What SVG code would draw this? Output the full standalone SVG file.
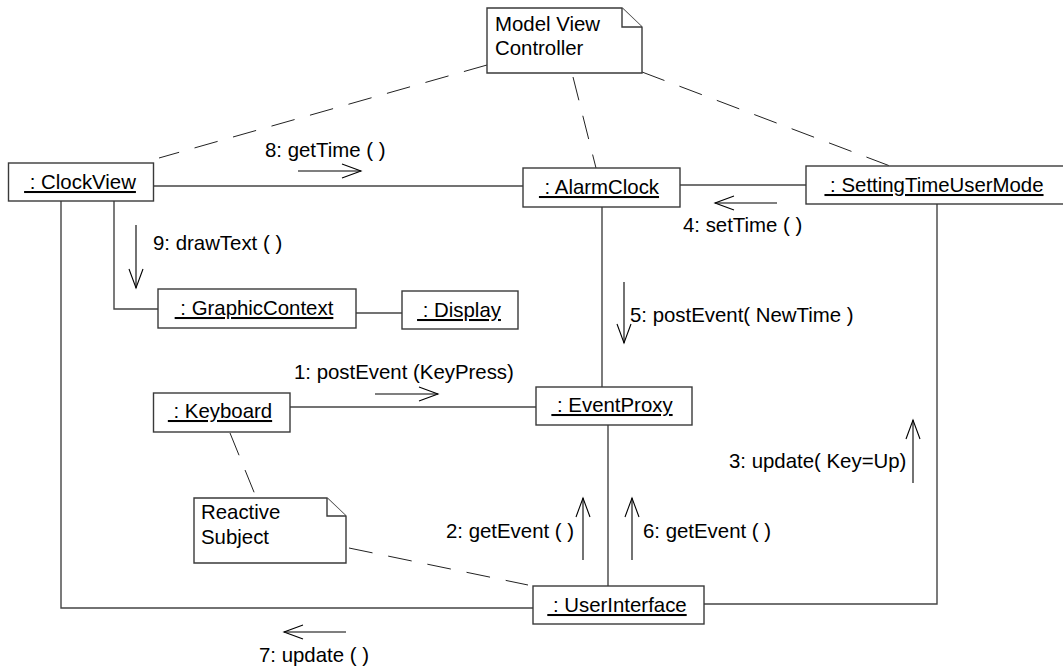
<svg xmlns="http://www.w3.org/2000/svg" width="1063" height="671" viewBox="0 0 1063 671">
<style>
text{font-family:"Liberation Sans",Arial,sans-serif;font-size:20.4px;fill:#000}
.obj{fill:#fff;stroke:#3a3a3a;stroke-width:1.4}
.name{text-anchor:middle;text-decoration:underline;white-space:pre}
.note{fill:#fff;stroke:#3a3a3a;stroke-width:1.4}
.link{fill:none;stroke:#444;stroke-width:1.4}
.dash{fill:none;stroke:#222;stroke-width:1;stroke-dasharray:24 16}
.msg{fill:none;stroke:#000;stroke-width:1.1;marker-end:url(#open)}
</style>
<defs>
<marker id="open" markerUnits="userSpaceOnUse" viewBox="-21 -9 23 18" refX="0" refY="0" markerWidth="23" markerHeight="18" orient="auto" overflow="visible">
<path d="M-19,-7 L0,0 L-19,7" fill="none" stroke="#000" stroke-width="1.1"/>
</marker>
</defs>
<rect width="1063" height="671" fill="#fff"/>
<g id="connectors">
<path class="link" d="M153.5,186 H523"/>
<path class="link" d="M680,185 H806"/>
<path class="link" d="M114,201 V309 H158"/>
<path class="link" d="M356,313 H402"/>
<path class="link" d="M61,201 V608 H533"/>
<path class="link" d="M602,207 V387"/>
<path class="link" d="M290,407 H536"/>
<path class="link" d="M608,425 V586"/>
<path class="link" d="M937,204 V604 H704"/>
<path class="dash" d="M487,65 L159,158"/>
<path class="dash" d="M573,77 L596,168"/>
<path class="dash" d="M642,72 L890,166"/>
<path class="dash" d="M230,433 L256,497"/>
<path class="dash" d="M349,548 L528,585"/>
<path class="msg" d="M298,171 H361"/>
<path class="msg" d="M136,225 V288"/>
<path class="msg" d="M777,203 H715"/>
<path class="msg" d="M624,282 V343"/>
<path class="msg" d="M375,394 H438"/>
<path class="msg" d="M583,560 V498"/>
<path class="msg" d="M632,560 V498"/>
<path class="msg" d="M913,483 V420"/>
<path class="msg" d="M346,632 H284"/>
<text x="265" y="157">8: getTime ( )</text>
<text x="153" y="250">9: drawText ( )</text>
<text x="683" y="232">4: setTime ( )</text>
<text x="630" y="322">5: postEvent( NewTime )</text>
<text x="294" y="379">1: postEvent (KeyPress)</text>
<text x="446" y="538">2: getEvent ( )</text>
<text x="643" y="538">6: getEvent ( )</text>
<text x="729" y="468">3: update( Key=Up)</text>
<text x="259" y="662">7: update ( )</text>
</g>
<g id="note-mvc">
<path class="note" d="M487,8 H622 L642,27 V73 H487 Z"/>
<path class="note" d="M622,8 V27 H642" fill="none"/>
<text x="495" y="31">Model View</text>
<text x="495" y="55">Controller</text>
</g>
<g id="note-reactive">
<path class="note" d="M194,498 H327 L346,516 V563 H194 Z"/>
<path class="note" d="M327,498 V516 H346" fill="none"/>
<text x="201" y="519">Reactive</text>
<text x="201" y="544">Subject</text>
</g>
<g id="clockview">
<rect class="obj" x="8.5" y="163" width="145" height="38"/>
<text class="name" x="80" y="189" xml:space="preserve"> : ClockView</text>
</g>
<g id="alarmclock">
<rect class="obj" x="523" y="168" width="157" height="39"/>
<text class="name" x="599" y="194" xml:space="preserve"> : AlarmClock</text>
</g>
<g id="settingtimeusermode">
<rect class="obj" x="806" y="166" width="280" height="38"/>
<text class="name" x="934" y="192" xml:space="preserve"> : SettingTimeUserMode</text>
</g>
<g id="graphiccontext">
<rect class="obj" x="158" y="289" width="198" height="39"/>
<text class="name" x="254" y="315" xml:space="preserve"> : GraphicContext</text>
</g>
<g id="display">
<rect class="obj" x="402" y="291" width="116" height="38"/>
<text class="name" x="459" y="317" xml:space="preserve"> : Display</text>
</g>
<g id="keyboard">
<rect class="obj" x="153.5" y="393" width="136.5" height="39"/>
<text class="name" x="220" y="418" xml:space="preserve"> : Keyboard</text>
</g>
<g id="eventproxy">
<rect class="obj" x="536" y="387" width="156" height="38"/>
<text class="name" x="612" y="412" xml:space="preserve"> : EventProxy</text>
</g>
<g id="userinterface">
<rect class="obj" x="533" y="586" width="171" height="38"/>
<text class="name" x="617" y="612" xml:space="preserve"> : UserInterface</text>
</g>
</svg>
